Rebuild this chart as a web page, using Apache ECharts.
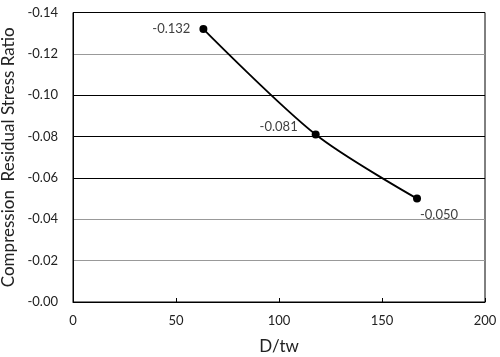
<!DOCTYPE html>
<html><head><meta charset="utf-8">
<script src="https://cdn.jsdelivr.net/npm/echarts@6/dist/echarts.min.js"></script>
<style>html,body{margin:0;padding:0;background:#fff}#c{width:500px;height:357px}</style>
</head><body><div id="c"></div>
<script>
const xValues = [63.3, 117.8, 167.0];
const yValues = [-0.132, -0.081, -0.050];
const xTitle = 'D/tw';
const yTitle = 'Compression  Residual Stress Ratio';

const FONT = 'Lato, "Open Sans", sans-serif';
const chart = echarts.init(document.getElementById('c'), null, {renderer: 'canvas'});
const labelCfg = [
  {position: 'left', distance: 9, offset: [0, 0]},
  {position: 'left', distance: 14, offset: [0, -8]},
  {position: 'bottom', distance: 6, offset: [22, 0]}
];
chart.setOption({
  animation: false,
  grid: {left: 73, right: 15, top: 12.5, bottom: 55, show: true, borderColor: '#000', borderWidth: 1,
    containLabel: false, outerBoundsMode: 'none'},
  xAxis: {
    type: 'value', min: 0, max: 200, interval: 50,
    name: xTitle, nameLocation: 'middle', nameGap: 36,
    nameTextStyle: {fontFamily: FONT, fontSize: 17, color: '#222'},
    axisLine: {show: true, lineStyle: {color: '#000', width: 1}},
    axisTick: {show: true, inside: true, length: 4, lineStyle: {color: '#000'}},
    axisLabel: {fontFamily: FONT, fontSize: 13, color: '#222', margin: 12},
    splitLine: {show: false}
  },
  yAxis: {
    type: 'value', min: -0.14, max: 0, interval: 0.02, inverse: true,
    name: yTitle, nameLocation: 'middle', nameGap: 55,
    nameTextStyle: {fontFamily: FONT, fontSize: 17, color: '#222'},
    axisLine: {show: true, lineStyle: {color: '#000'}},
    axisTick: {show: false},
    axisLabel: {fontFamily: FONT, fontSize: 13, color: '#222', margin: 15,
      formatter: v => '-' + Math.abs(v).toFixed(2)},
    splitLine: {show: true, lineStyle: {color: ['#000', '#999', '#000', '#000', '#000', '#999', '#999', '#000'], width: 1}}
  },
  series: [{
    type: 'line', smooth: 0.3,
    data: xValues.map((x, i) => ({
      value: [x, yValues[i]],
      label: labelCfg[i]
    })),
    symbol: 'circle', symbolSize: 8,
    itemStyle: {color: '#000'},
    lineStyle: {color: '#000', width: 1.8},
    label: {show: true, fontFamily: FONT, fontSize: 13, color: '#404040',
      formatter: p => p.value[1].toFixed(3)}
  }]
});
</script></body></html>
